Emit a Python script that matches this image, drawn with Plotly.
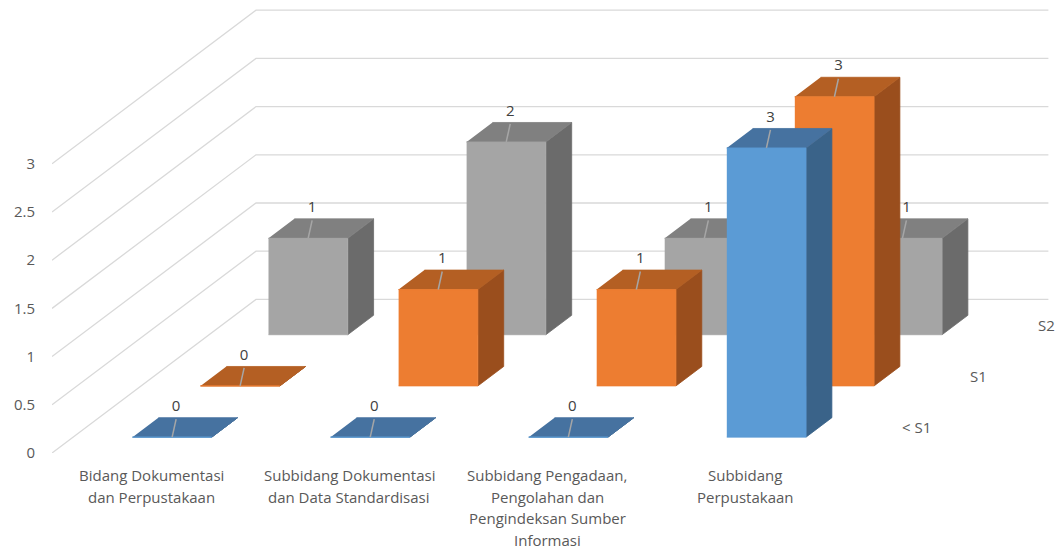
import plotly.graph_objects as go

# ---------------- data ----------------
category_lines = [
    ["Bidang Dokumentasi", "dan Perpustakaan"],
    ["Subbidang Dokumentasi", "dan Data Standardisasi"],
    ["Subbidang Pengadaan,", "Pengolahan dan", "Pengindeksan Sumber", "Informasi"],
    ["Subbidang", "Perpustakaan"],
]
series_names = ["< S1", "S1", "S2"]
values_lt_s1 = [0, 0, 0, 3]
values_s1 = [0, 1, 1, 3]
values_s2 = [1, 2, 1, 1]
series_values = [values_lt_s1, values_s1, values_s2]
y_tickvals = [0, 0.5, 1, 1.5, 2, 2.5, 3]
y_ticktext = ["0", "0.5", "1", "1.5", "2", "2.5", "3"]

# ---------------- style ----------------
front_colors = ["#5B9BD5", "#ED7D31", "#A5A5A5"]
top_colors = ["#4672A0", "#B45F23", "#808080"]
side_colors = ["#3A6389", "#9A4E1D", "#6B6B6B"]
grid_color = "#D9D9D9"
text_color = "#595959"
label_color = "#404040"
leader_color = "#A6A6A6"
FONT = "Open Sans"

# oblique projection (depth axis drawn up-right)
PX_PER_CAT = 198.1
PX_PER_VAL = 96.4
DEPTH_PX_X = 68.0
DEPTH_PX_Y = 51.2
KX = DEPTH_PX_X / PX_PER_CAT
KY = DEPTH_PX_Y / PX_PER_VAL
N_CAT = len(category_lines)
N_SER = len(series_names)
BAR_W = 0.4
BAR_D = 0.38


def proj(x, v, d):
    return x + KX * d, v + KY * d


def poly_trace(polys, color):
    xs, ys = [], []
    for p in polys:
        for (x, v, d) in p:
            px, py = proj(x, v, d)
            xs.append(px)
            ys.append(py)
        xs.append(None)
        ys.append(None)
    return go.Scatter(x=xs, y=ys, mode="lines", fill="toself", fillcolor=color,
                      line=dict(color=color, width=0.8), hoverinfo="skip",
                      showlegend=False)


fig = go.Figure()

# walls gridlines (left wall + back wall)
gx, gy = [], []
for v in y_tickvals:
    for (x, d) in [(0, 0), (0, N_SER), (N_CAT, N_SER)]:
        px, py = proj(x, v, d)
        gx.append(px)
        gy.append(py)
    gx.append(None)
    gy.append(None)
fig.add_trace(go.Scatter(x=gx, y=gy, mode="lines", line=dict(color=grid_color, width=1.3),
                         hoverinfo="skip", showlegend=False))

# bars, back row first
for s in reversed(range(N_SER)):
    vals = series_values[s]
    fronts, tops, sides = [], [], []
    lx, ly, tx, ty, tt = [], [], [], [], []
    d0 = s + 0.5 - BAR_D / 2
    d1 = s + 0.5 + BAR_D / 2
    for c, v in enumerate(vals):
        x0 = c + 0.5 - BAR_W / 2
        x1 = c + 0.5 + BAR_W / 2
        fronts.append([(x0, 0, d0), (x1, 0, d0), (x1, v, d0), (x0, v, d0)])
        tops.append([(x0, v, d0), (x1, v, d0), (x1, v, d1), (x0, v, d1)])
        sides.append([(x1, 0, d0), (x1, 0, d1), (x1, v, d1), (x1, v, d0)])
        cx, cy = proj(c + 0.5, v, d0)
        lx += [cx, cx + 4 / PX_PER_CAT, None]
        ly += [cy, cy + 18 / PX_PER_VAL, None]
        tx.append(cx + 4 / PX_PER_CAT)
        ty.append(cy + 30 / PX_PER_VAL)
        tt.append(str(v))
    fig.add_trace(poly_trace(sides, side_colors[s]))
    fig.add_trace(poly_trace(tops, top_colors[s]))
    fig.add_trace(poly_trace(fronts, front_colors[s]))
    fig.add_trace(go.Scatter(x=lx, y=ly, mode="lines", line=dict(color=leader_color, width=1.5),
                             hoverinfo="skip", showlegend=False))
    fig.add_trace(go.Scatter(x=tx, y=ty, mode="text", text=tt, textposition="middle center",
                             textfont=dict(family=FONT, size=15, color=label_color),
                             hoverinfo="skip", showlegend=False, cliponaxis=False))

annotations = []
# category labels along the front edge of the floor
for c, lines in enumerate(category_lines):
    ax_, ay_ = proj(c + 0.5, 0, 0)
    for i, line in enumerate(lines):
        annotations.append(dict(x=ax_, y=ay_, xref="x", yref="y", text=line, showarrow=False,
                                xanchor="center", yanchor="middle", yshift=-(21.8 + 21.7 * i),
                                font=dict(family=FONT, size=15, color=text_color)))
# series (depth) labels on the right
for s, name in enumerate(series_names):
    ax_, ay_ = proj(N_CAT, 0, s + 0.5)
    annotations.append(dict(x=ax_, y=ay_, xref="x", yref="y", text=name, showarrow=False,
                            xanchor="left", yanchor="middle", xshift=22,
                            font=dict(family=FONT, size=15, color=text_color)))

W, H = 1055, 550
ML, MB = 52, 97
fig.update_layout(
    width=W, height=H,
    margin=dict(l=ML, r=0, t=0, b=MB, pad=0),
    paper_bgcolor="white", plot_bgcolor="white",
    showlegend=False,
    annotations=annotations,
    xaxis=dict(range=[0, (W - ML) / PX_PER_CAT], visible=False, fixedrange=True),
    yaxis=dict(range=[0, (H - MB) / PX_PER_VAL], tickvals=y_tickvals, ticktext=y_ticktext,
               showgrid=False, zeroline=False, showline=False, ticks="",
               ticklabelstandoff=16,
               tickfont=dict(family=FONT, size=15, color=text_color), fixedrange=True),
)

fig.write_html("out.html")
